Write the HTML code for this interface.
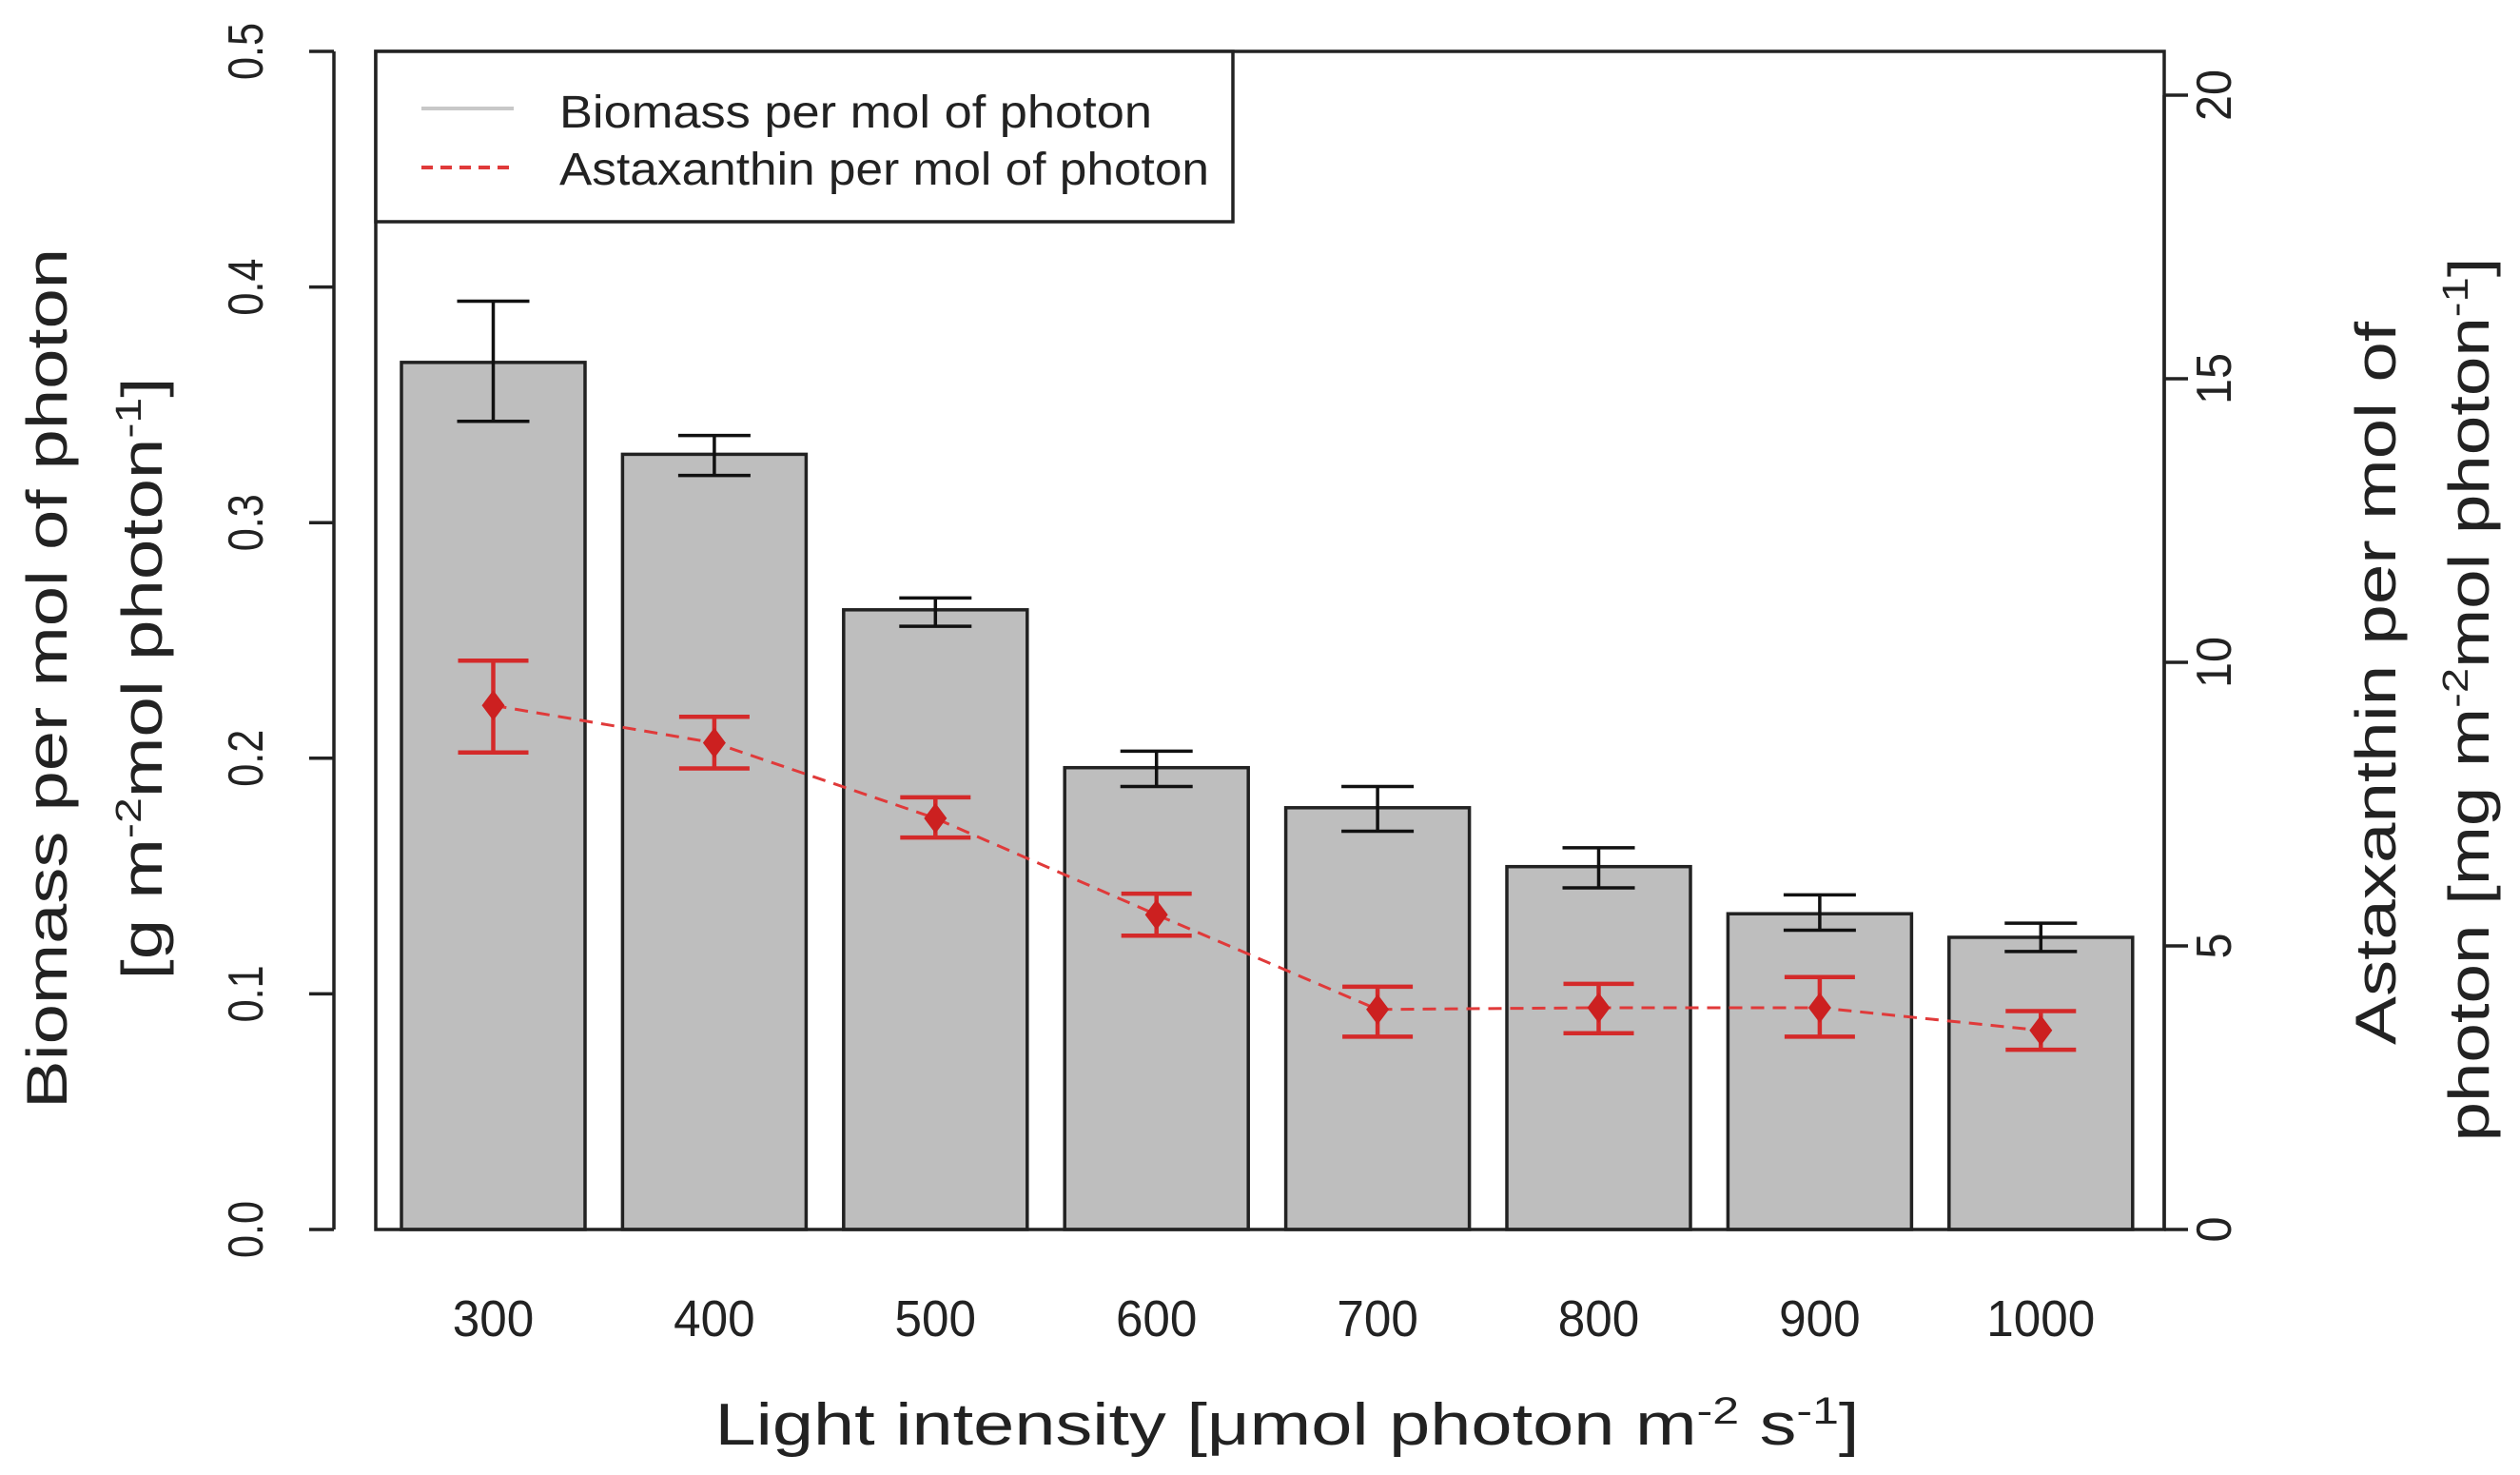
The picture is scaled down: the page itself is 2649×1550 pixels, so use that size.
<!DOCTYPE html>
<html><head><meta charset="utf-8"><style>html,body{margin:0;padding:0;background:#fff}svg{display:block}</style></head>
<body>
<svg id="chart" width="2649" height="1550" viewBox="0 0 2649 1550" xmlns="http://www.w3.org/2000/svg" font-family="Liberation Sans, sans-serif">
<g id="g"></g>
</svg>
<script>
const categories = ["300","400","500","600","700","800","900","1000"];
const biomass = [0.368,0.329,0.263,0.196,0.179,0.154,0.134,0.124];
const biomassHi = [0.394,0.337,0.268,0.203,0.188,0.162,0.142,0.130];
const biomassLo = [0.343,0.320,0.256,0.188,0.169,0.145,0.127,0.118];
const astax = [9.24,8.58,7.25,5.55,3.88,3.91,3.91,3.51];
const astaxHi = [10.03,9.04,7.62,5.92,4.28,4.33,4.45,3.85];
const astaxLo = [8.41,8.13,6.91,5.18,3.40,3.46,3.40,3.17];
const leftTicks = ["0.0","0.1","0.2","0.3","0.4","0.5"];
const rightTicks = ["0","5","10","15","20"];

const NS="http://www.w3.org/2000/svg";
const g=document.getElementById('g');
function yL(v){return 1292 - v*2476;}
function yR(v){return 1292 - v*59.6;}
function xC(i){return 518.5 + i*232.4;}
function mk(tag,attrs,parent){const e=document.createElementNS(NS,tag);for(const k in attrs)e.setAttribute(k,attrs[k]);(parent||g).appendChild(e);return e;}
const BW=193;

categories.forEach((c,i)=>{
  const b=mk('rect',{x:xC(i)-BW/2,y:yL(biomass[i]),width:BW,height:1292-yL(biomass[i]),fill:'#bebebe',stroke:'#222','stroke-width':3.5});
  
  
});
categories.forEach((c,i)=>{
  const x=xC(i);
  const e=mk('path',{d:`M${x},${yL(biomassHi[i])}V${yL(biomassLo[i])}M${x-38},${yL(biomassHi[i])}H${x+38}M${x-38},${yL(biomassLo[i])}H${x+38}`,stroke:'#111','stroke-width':3.5,fill:'none'});
  
  
});
const box=mk('rect',{x:395,y:54,width:1880,height:1238,fill:'none',stroke:'#222','stroke-width':3.5});


let d='';astax.forEach((v,i)=>{d+=(i?'L':'M')+xC(i)+','+yR(v);});
const ln=mk('path',{d:d,stroke:'#e03a3a','stroke-width':3,fill:'none','stroke-dasharray':'14,9'});


categories.forEach((c,i)=>{
  const x=xC(i);
  const e=mk('path',{d:`M${x},${yR(astaxHi[i])}V${yR(astaxLo[i])}M${x-37},${yR(astaxHi[i])}H${x+37}M${x-37},${yR(astaxLo[i])}H${x+37}`,stroke:'#d42a2a','stroke-width':4.5,fill:'none'});
  
  
  const y=yR(astax[i]);
  const p=mk('path',{d:`M${x},${y-16}L${x+12},${y}L${x},${y+16}L${x-12},${y}Z`,fill:'#cc2020'});
  
  
  const t=mk('text',{x:x,y:1404,'font-size':54,'text-anchor':'middle',fill:'#222',textLength:c.length*28.5,lengthAdjust:'spacingAndGlyphs'});
  t.textContent=c;
  
  
});
mk('path',{d:`M351,${yL(0)}V${yL(0.5)}`,stroke:'#222','stroke-width':3.5});
leftTicks.forEach((s,i)=>{
  const v=parseFloat(s),y=yL(v);
  mk('path',{d:`M325,${y}H351`,stroke:'#222','stroke-width':3.5});
  const t=mk('text',{x:0,y:0,'font-size':52,'text-anchor':'middle',fill:'#222',transform:`translate(276,${y}) rotate(-90)`,textLength:s.length*20,lengthAdjust:'spacingAndGlyphs'});
  t.textContent=s;
  
  
});
mk('path',{d:`M2275,${yR(0)}V${yR(20)}`,stroke:'#222','stroke-width':3.5});
rightTicks.forEach((s)=>{
  const v=parseFloat(s),y=yR(v);
  mk('path',{d:`M2275,${y}H2300`,stroke:'#222','stroke-width':3.5});
  const t=mk('text',{x:0,y:0,'font-size':52,'text-anchor':'middle',fill:'#222',transform:`translate(2345,${y}) rotate(-90)`,textLength:s.length*27,lengthAdjust:'spacingAndGlyphs'});
  t.textContent=s;
  
  
});
</script>
<div style="position:absolute;left:0;top:0">
<svg width="2649" height="1550" viewBox="0 0 2649 1550" xmlns="http://www.w3.org/2000/svg" font-family="Liberation Sans, sans-serif">
 <g>
  <rect x="395" y="54" width="901" height="179" fill="#fff" stroke="#222" stroke-width="3.5"/>
  <line x1="443" y1="114" x2="540" y2="114" stroke="#c8c8c8" stroke-width="4"/>
  <line x1="443" y1="176" x2="540" y2="176" stroke="#e03a3a" stroke-width="4" stroke-dasharray="12,8"/>
  <text x="588" y="134" font-size="48" fill="#222" textLength="623" lengthAdjust="spacingAndGlyphs">Biomass per mol of photon</text>
  <text x="588" y="194" font-size="48" fill="#222" textLength="683" lengthAdjust="spacingAndGlyphs">Astaxanthin per mol of photon</text>
 </g>
 <text x="1353" y="1518" font-size="62" text-anchor="middle" fill="#222" textLength="1203" lengthAdjust="spacingAndGlyphs">Light intensity [μmol photon m<tspan font-size="40" dy="-22">-2</tspan><tspan dy="22"> s</tspan><tspan font-size="40" dy="-22">-1</tspan><tspan dy="22">]</tspan></text>
 <g>
  <text transform="translate(70,713) rotate(-90)" font-size="60" text-anchor="middle" fill="#222" textLength="904" lengthAdjust="spacingAndGlyphs">Biomass per mol of photon</text>
  <text transform="translate(170,713) rotate(-90)" font-size="60" text-anchor="middle" fill="#222" textLength="633" lengthAdjust="spacingAndGlyphs">[g m<tspan font-size="38" dy="-22">-2</tspan><tspan dy="22">mol photon</tspan><tspan font-size="38" dy="-22">-1</tspan><tspan dy="22">]</tspan></text>
 </g>
 <g>
  <text transform="translate(2518,718) rotate(-90)" font-size="60" text-anchor="middle" fill="#222" textLength="760" lengthAdjust="spacingAndGlyphs">Astaxanthin per mol of</text>
  <text transform="translate(2616,735) rotate(-90)" font-size="60" text-anchor="middle" fill="#222" textLength="929" lengthAdjust="spacingAndGlyphs">photon [mg m<tspan font-size="38" dy="-22">-2</tspan><tspan dy="22">mol photon</tspan><tspan font-size="38" dy="-22">-1</tspan><tspan dy="22">]</tspan></text>
 </g>
</svg>
</div>
</body></html>
